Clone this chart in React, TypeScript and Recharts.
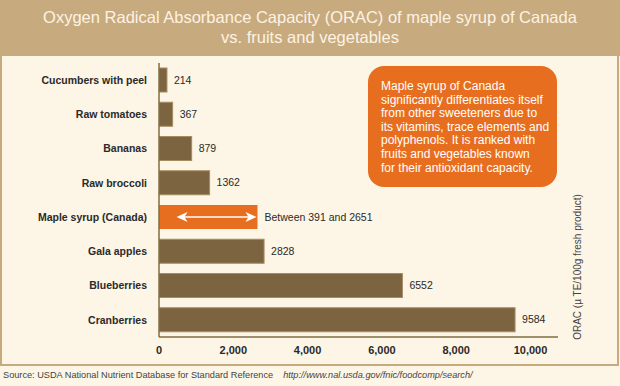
import { BarChart, Bar, XAxis, YAxis, LabelList } from "recharts"

const FONT = '"Liberation Sans", Arial, Helvetica, sans-serif'

const CATEGORIES = [
  "Cucumbers with peel",
  "Raw tomatoes",
  "Bananas",
  "Raw broccoli",
  "Maple syrup (Canada)",
  "Gala apples",
  "Blueberries",
  "Cranberries",
]
const ORAC_VALUES = [214, 367, 879, 1362, 2651, 2828, 6552, 9584]
// maple syrup is given as a range; others have no low bound
const RANGE_LOW = [null, null, null, null, 391, null, null, null]
const X_TICKS = [0, 2000, 4000, 6000, 8000, 10000]

const BROWN = "#7c6440"
const ORANGE = "#e86e1f"
const TAN = "#c8aa7f"
const CREAM = "#fdf5e5"

const data = CATEGORIES.map((name, i) => ({
  name,
  value: ORAC_VALUES[i],
  low: RANGE_LOW[i],
}))

const labelText = (i: number) =>
  RANGE_LOW[i] != null ? `Between ${RANGE_LOW[i]} and ${ORAC_VALUES[i]}` : String(ORAC_VALUES[i])

// eslint-disable-next-line @typescript-eslint/no-explicit-any
function BarShape(props: any) {
  const { x, y, width, height, payload } = props
  if (payload.low == null) {
    return <rect x={x} y={y} width={width} height={height} fill={BROWN} stroke="#a58d62" strokeWidth={1} />
  }
  const cy = y + height / 2
  const left = x + (width * payload.low) / payload.value + 3
  const right = x + width - 1
  return (
    <g>
      <rect x={x} y={y} width={width} height={height} fill={ORANGE} />
      <line x1={left + 6} y1={cy} x2={right - 6} y2={cy} stroke="#fff" strokeWidth={1.6} />
      <path d={`M${left},${cy} L${left + 11},${cy - 5} L${left + 8},${cy} L${left + 11},${cy + 5} Z`} fill="#fff" />
      <path d={`M${right},${cy} L${right - 11},${cy - 5} L${right - 8},${cy} L${right - 11},${cy + 5} Z`} fill="#fff" />
    </g>
  )
}

export default function App() {
  return (
    <div style={{ position: "fixed", left: 0, top: 0, width: 620, height: 386, background: CREAM, fontFamily: FONT, overflow: "hidden" }}>
      {/* frame */}
      <div style={{ position: "absolute", left: 0, top: 0, width: 615, height: 362, border: `2px solid ${TAN}` }} />
      {/* title band */}
      <div
        style={{
          position: "absolute", left: 0, top: 0, width: 620, height: 56, background: TAN,
          color: "#fdf3e2", fontSize: 16.5, lineHeight: "19.5px", textAlign: "center", paddingTop: 8, boxSizing: "border-box",
        }}
      >
        Oxygen Radical Absorbance Capacity (ORAC) of maple syrup of Canada
        <br />
        vs. fruits and vegetables
      </div>

      <div style={{ position: "absolute", left: 0, top: 0 }}>
        <BarChart
          width={620}
          height={386}
          data={data}
          layout="vertical"
          margin={{ top: 63, right: 62, bottom: 19, left: 0 }}
        >
          <XAxis
            type="number"
            domain={[0, 10740]}
            ticks={X_TICKS}
            tickFormatter={(v: number) => v.toLocaleString("en-US")}
            height={30}
            tickSize={0}
            tickMargin={9}
            axisLine={{ stroke: "#7f6c42", strokeWidth: 1.5 }}
            tick={{ fill: "#2a2a2a", fontSize: 11, fontWeight: 700, fontFamily: FONT }}
            allowDataOverflow
          />
          <YAxis
            type="category"
            dataKey="name"
            width={159}
            tickSize={0}
            tickMargin={12}
            axisLine={{ stroke: "#7f6c42", strokeWidth: 1.5 }}
            tick={{ fill: "#2a2a2a", fontSize: 10.5, fontWeight: 700, fontFamily: FONT }}
            interval={0}
          />
          <Bar dataKey="value" barSize={24} shape={BarShape} isAnimationActive={false}>
            <LabelList
              dataKey="value"
              position="right"
              offset={7}
              // eslint-disable-next-line @typescript-eslint/no-explicit-any
              content={(p: any) => (
                <text
                  x={p.x + p.width + 7}
                  y={p.y + p.height / 2}
                  dy="0.35em"
                  fill="#2a2a2a"
                  fontSize={10.5}
                  fontFamily={FONT}
                >
                  {labelText(p.index)}
                </text>
              )}
            />
          </Bar>
        </BarChart>
      </div>

      {/* callout */}
      <div
        style={{
          position: "absolute", left: 368, top: 66, width: 189, height: 121, borderRadius: 16,
          background: ORANGE, color: "#fff", fontSize: 12, lineHeight: "13.6px",
          padding: "14px 0 0 13px", boxSizing: "border-box",
        }}
      >
        Maple syrup of Canada<br />
        significantly differentiates itself<br />
        from other sweeteners due to<br />
        its vitamins, trace elements and<br />
        polyphenols. It is ranked with<br />
        fruits and vegetables known<br />
        for their antioxidant capacity.
      </div>

      {/* axis title */}
      <div
        style={{
          position: "absolute", left: 577, top: 267, fontSize: 10, color: "#444", whiteSpace: "nowrap",
          transform: "translate(-50%, -50%) rotate(-90deg)",
        }}
      >
        ORAC (µ TE/100g fresh product)
      </div>

      {/* source */}
      <div style={{ position: "absolute", left: 3, top: 370, fontSize: 9.2, color: "#444", whiteSpace: "nowrap" }}>
        Source: USDA National Nutrient Database for Standard Reference
        <span style={{ fontStyle: "italic", marginLeft: 10 }}>http://www.nal.usda.gov/fnic/foodcomp/search/</span>
      </div>
    </div>
  )
}
